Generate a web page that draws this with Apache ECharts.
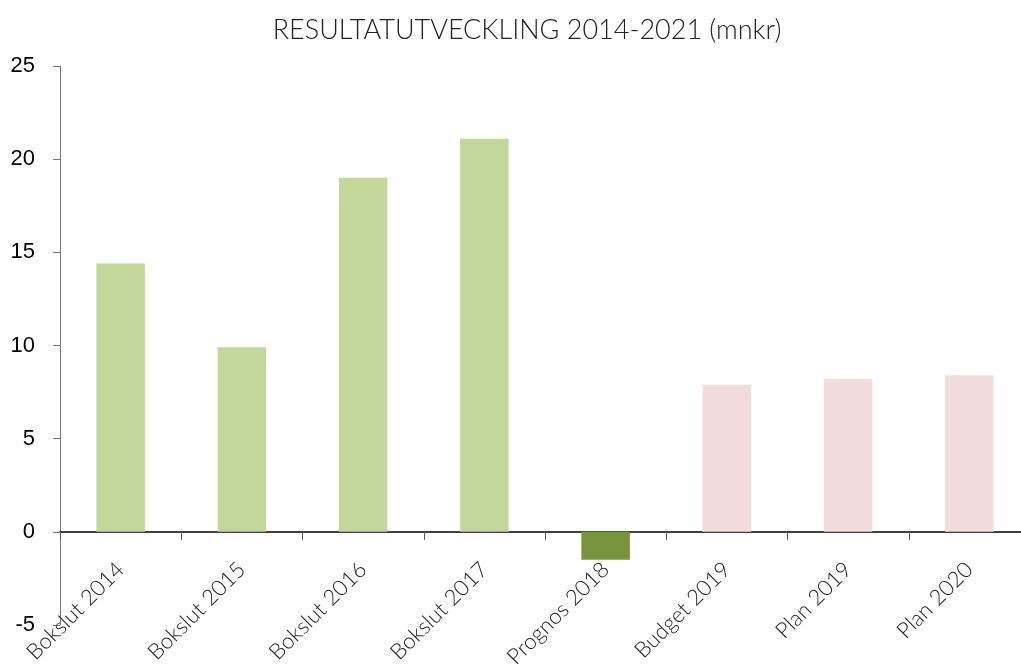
<!DOCTYPE html>
<html>
<head>
<meta charset="utf-8">
<script src="https://cdn.jsdelivr.net/npm/echarts@6/dist/echarts.min.js"></script>
<style>
html,body{margin:0;padding:0;background:#fff;}
#chart{width:1021px;height:671px;}
</style>
</head>
<body>
<div id="chart"></div>
<script>
const categories = ['Bokslut 2014','Bokslut 2015','Bokslut 2016','Bokslut 2017','Prognos 2018','Budget 2019','Plan 2019','Plan 2020'];
const values = [14.4, 9.9, 19.0, 21.1, -1.5, 7.9, 8.2, 8.4];
const kinds = ['bokslut','bokslut','bokslut','bokslut','prognos','plan','plan','plan'];
const yTicks = [-5, 0, 5, 10, 15, 20, 25];

const kindColor = {bokslut:'#c4d79b', prognos:'#77933c', plan:'#f2dcdb'};

const chart = echarts.init(document.getElementById('chart'), null, {renderer:'canvas'});
chart.setOption({
  backgroundColor:'#ffffff',
  animation:false,
  title:{
    text:'RESULTATUTVECKLING 2014-2021 (mnkr)',
    left:522, textAlign:'center', top:12,
    textStyle:{fontFamily:'Lato', fontWeight:300, fontSize:27, color:'#222'}
  },
  grid:{left:60, top:66, width:970, height:559, containLabel:false, outerBoundsMode:'none'},
  xAxis:{
    type:'category',
    data:categories,
    axisLine:{onZero:true, lineStyle:{color:'#000', width:1.5}},
    axisTick:{show:true, length:8, lineStyle:{color:'#555'}},
    axisLabel:{rotate:45, fontFamily:'Lato', fontWeight:300, fontSize:22, color:'#222', margin:-59, interval:0}
  },
  yAxis:{
    type:'value',
    min:yTicks[0], max:yTicks[yTicks.length-1], interval:5,
    splitLine:{show:false},
    axisLine:{show:true, lineStyle:{color:'#777'}},
    axisTick:{show:true, length:7, lineStyle:{color:'#777'}},
    axisLabel:{fontFamily:'Liberation Sans', fontSize:22, color:'#000', margin:25}
  },
  series:[{
    type:'bar',
    barWidth:'40%',
    data:values.map((v,i)=>({value:v, itemStyle:{color:kindColor[kinds[i]]}}))
  }]
});
</script>
</body>
</html>
